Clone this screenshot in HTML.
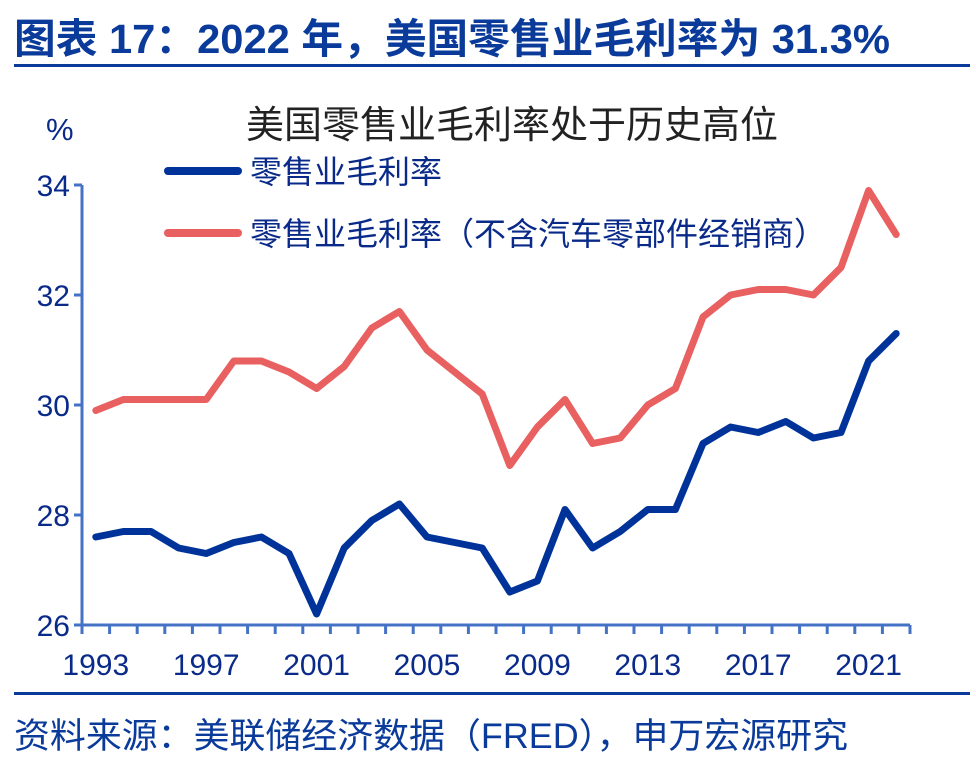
<!DOCTYPE html>
<html><head><meta charset="utf-8"><style>
body{margin:0;background:#fff;width:976px;height:776px;overflow:hidden;font-family:"Liberation Sans","Noto Sans CJK SC",sans-serif}
</style></head><body>
<svg width="976" height="776" xmlns="http://www.w3.org/2000/svg">
<text x="14" y="53" font-size="41" font-weight="bold" fill="#0a3a9a" font-family="Liberation Sans,Noto Sans CJK SC,sans-serif" textLength="876" lengthAdjust="spacingAndGlyphs">图表 17：2022 年，美国零售业毛利率为 31.3%</text>
<rect x="14" y="64" width="956" height="3" fill="#0a3a9a"/>
<text x="512" y="138" font-size="38" text-anchor="middle" fill="#222" font-family="Liberation Sans,Noto Sans CJK SC,sans-serif">美国零售业毛利率处于历史高位</text>
<text x="46" y="140" font-size="31" fill="#0a2a8a">%</text>
<g>
<line x1="168" y1="171" x2="238" y2="171" stroke="#003399" stroke-width="8" stroke-linecap="round"/>
<text x="250" y="183" font-size="32" fill="#0a2a8a" font-family="Liberation Sans,Noto Sans CJK SC,sans-serif">零售业毛利率</text>
<line x1="168" y1="233" x2="238" y2="233" stroke="#e86060" stroke-width="8" stroke-linecap="round"/>
<text x="250" y="245" font-size="32" fill="#0a2a8a" font-family="Liberation Sans,Noto Sans CJK SC,sans-serif">零售业毛利率（不含汽车零部件经销商）</text>
</g>
<g id="axes"></g>
<g id="series"></g>
<rect x="14" y="692" width="956" height="3" fill="#0a3a9a"/>
<text x="14" y="748" font-size="35" fill="#0a3a9a" font-family="Liberation Sans,Noto Sans CJK SC,sans-serif" textLength="834" lengthAdjust="spacingAndGlyphs">资料来源：美联储经济数据（FRED），申万宏源研究</text>
</svg>
<script>
const years=[1993,1994,1995,1996,1997,1998,1999,2000,2001,2002,2003,2004,2005,2006,2007,2008,2009,2010,2011,2012,2013,2014,2015,2016,2017,2018,2019,2020,2021,2022];
const retailMargin=[27.6,27.7,27.7,27.4,27.3,27.5,27.6,27.3,26.2,27.4,27.9,28.2,27.6,27.5,27.4,26.6,26.8,28.1,27.4,27.7,28.1,28.1,29.3,29.6,29.5,29.7,29.4,29.5,30.8,31.3];
const retailMarginExAuto=[29.9,30.1,30.1,30.1,30.1,30.8,30.8,30.6,30.3,30.7,31.4,31.7,31.0,30.6,30.2,28.9,29.6,30.1,29.3,29.4,30.0,30.3,31.6,32.0,32.1,32.1,32.0,32.5,33.9,33.1];
const yTicks=[26,28,30,32,34];
const xLabels=[1993,1997,2001,2005,2009,2013,2017,2021];
const NS='http://www.w3.org/2000/svg';
const X0=82,X1=910,Y0=625,yMin=26,yMax=34,YTOP=185;
const bw=(X1-X0)/years.length;
function xPos(i){return X0+(i+0.5)*bw;}
function yPos(v){return Y0-(v-yMin)/(yMax-yMin)*(Y0-YTOP);}
function mk(t,a,p){const e=document.createElementNS(NS,t);for(const k in a)e.setAttribute(k,a[k]);p.appendChild(e);return e;}
const ax=document.getElementById('axes');
const ya=mk('line',{x1:X0,y1:YTOP,x2:X0,y2:Y0,stroke:'#4472c4','stroke-width':3},ax);


const xa=mk('line',{x1:X0-8,y1:Y0,x2:X1,y2:Y0,stroke:'#4472c4','stroke-width':3},ax);


yTicks.forEach(v=>{
 const y=yPos(v);
 const t=mk('line',{x1:X0-8,y1:y,x2:X0,y2:y,stroke:'#4472c4','stroke-width':3},ax);
 
 
 const l=mk('text',{x:X0-12,y:y+11,'font-size':30,'text-anchor':'end',fill:'#0a2a8a'},ax);
 l.textContent=v;
 
 
});
for(let i=0;i<=years.length;i++){
 const x=X0+i*bw;
 const t=mk('line',{x1:x,y1:Y0,x2:x,y2:Y0+9,stroke:'#4472c4','stroke-width':3},ax);
 
 
}
xLabels.forEach(yr=>{
 const i=years.indexOf(yr);
 const l=mk('text',{x:xPos(i),y:675,'font-size':30,'text-anchor':'middle',fill:'#0a2a8a'},ax);
 l.textContent=yr;
 
 
});
const sg=document.getElementById('series');
function line(vals,color,name){
 const pts=vals.map((v,i)=>xPos(i).toFixed(1)+','+yPos(v).toFixed(1)).join(' ');
 const p=mk('polyline',{points:pts,fill:'none',stroke:color,'stroke-width':7,'stroke-linejoin':'round','stroke-linecap':'round'},sg);
 
 
}
line(retailMarginExAuto,'#e86060','series-ex-auto-line');
line(retailMargin,'#003399','series-retail-margin-line');
</script>
</body></html>
